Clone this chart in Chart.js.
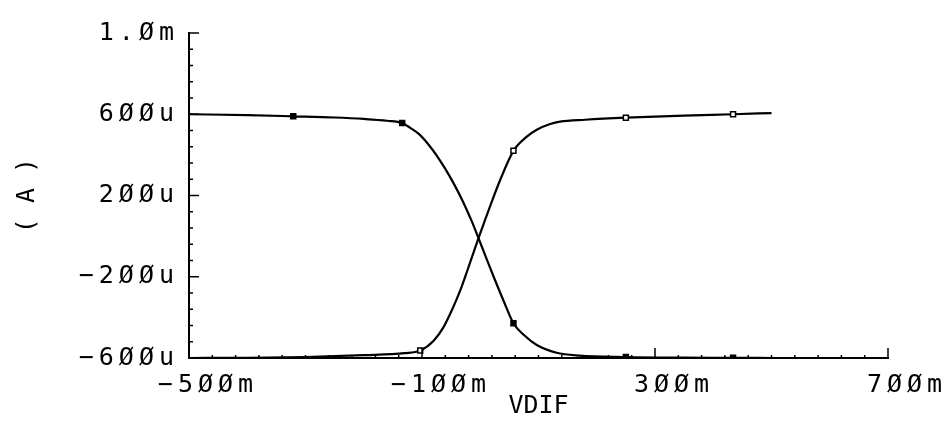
<!DOCTYPE html>
<html>
<head>
<meta charset="utf-8">
<script src="https://cdn.jsdelivr.net/npm/chart.js@4"></script>
<style>
  html, body { margin: 0; background: #fff; }
</style>
</head>
<body>
<canvas id="vdifChart" width="944" height="424"></canvas>
<script>
// DC sweep, VDIF in mV, output currents in uA
const vdif1 = [-500, -400, -321, -250, -200, -160, -134, -120, -105, -90, -75, -60, -45, -30, -15, -3, 9, 23, 40, 57, 75, 97, 131, 170, 250, 350, 434, 500];
const iOut1 = [600, 596, 590, 584, 577, 568, 557, 533, 502, 455, 398, 331, 256, 172, 76, -10, -98, -200, -318, -429, -487, -536, -574, -588, -595, -598, -599, -600];

const vdif2 = [-500, -400, -300, -200, -130, -103, -80, -63, -48, -34, -22, -11, -3, 8, 17, 34, 57, 80, 97, 120, 137, 180, 250, 350, 434, 500];
const iOut2 = [-600, -599, -595, -586, -576, -563, -515, -448, -360, -265, -168, -76, -10, 78, 148, 275, 420, 490, 524, 552, 564, 573, 583, 593, 600, 606];

// where the simulator put its trace symbols
const marks1 = [-321, -134, 57, 250, 434];
const marks2 = [-103, 57, 250, 434];

const xTicks = [-500, -100, 300, 700];
const xTickLabels = ['−5ØØm', '−1ØØm', '3ØØm', '7ØØm'];
const yTicks = [-600, -200, 200, 600, 1000];
const yTickLabels = ['−6ØØu', '−2ØØu', '2ØØu', '6ØØu', '1.Øm'];

const plotFont = { family: '"DejaVu Sans Mono", monospace', size: 25 };
const spacing = '5px';

function toPoints(xs, ys) {
    return xs.map((x, i) => ({ x: x, y: ys[i] }));
}

function labelFor(list, labels) {
    return function (value) {
        const k = list.indexOf(Math.round(value));
        return k < 0 ? '' : labels[k];
    };
}

// wide spaced tick lettering, plain titles, tick marks drawn inside the frame
const plotStyle = {
    id: 'plotStyle',
    beforeLayout(chart) { chart.ctx.letterSpacing = spacing; },
    beforeDraw(chart) { chart.ctx.letterSpacing = spacing; },
    afterLayout(chart) {
        Object.values(chart.scales).forEach(s => {
            if (s._plainTitle) return;
            const orig = s.drawTitle;
            s.drawTitle = function () {
                const c = this.ctx;
                const prev = c.letterSpacing;
                c.letterSpacing = '0px';
                orig.apply(this, arguments);
                c.letterSpacing = prev;
            };
            s._plainTitle = true;
        });
    },
    afterDraw(chart) {
        const ctx = chart.ctx;
        const area = chart.chartArea;
        const xs = chart.scales.x;
        const ys = chart.scales.y;
        ctx.save();
        ctx.strokeStyle = '#000';
        ctx.lineWidth = 1.5;
        ys.ticks.forEach(t => {
            const y = ys.getPixelForValue(t.value);
            ctx.beginPath();
            ctx.moveTo(area.left, y);
            ctx.lineTo(area.left + (t.label ? 10 : 4), y);
            ctx.stroke();
        });
        xs.ticks.forEach(t => {
            const x = xs.getPixelForValue(t.value);
            ctx.beginPath();
            ctx.moveTo(x, area.bottom);
            ctx.lineTo(x, area.bottom - (t.label ? 10 : 3));
            ctx.stroke();
        });
        ctx.restore();
    }
};

const ctx = document.getElementById('vdifChart').getContext('2d');
const vdifChart = new Chart(ctx, {
    type: 'scatter',
    data: {
        datasets: [{
            label: 'I1',
            data: toPoints(vdif1, iOut1),
            showLine: true,
            borderColor: '#000',
            borderWidth: 2.2,
            cubicInterpolationMode: 'monotone',
            pointStyle: 'rect',
            pointRadius: c => marks1.includes(c.raw.x) ? 3.5 : 0,
            pointBackgroundColor: '#000',
            pointBorderColor: '#000',
            pointBorderWidth: 1.5
        }, {
            label: 'I2',
            data: toPoints(vdif2, iOut2),
            showLine: true,
            borderColor: '#000',
            borderWidth: 2.2,
            cubicInterpolationMode: 'monotone',
            pointStyle: 'rect',
            pointRadius: c => marks2.includes(c.raw.x) ? 3.5 : 0,
            pointBackgroundColor: '#fff',
            pointBorderColor: '#000',
            pointBorderWidth: 1.5
        }]
    },
    options: {
        responsive: false,
        animation: false,
        layout: { padding: { left: 0, right: 56, top: 33, bottom: 0 } },
        plugins: {
            legend: { display: false },
            tooltip: { enabled: false }
        },
        scales: {
            x: {
                type: 'linear',
                min: -500,
                max: 700,
                grid: { display: false },
                border: { display: true, color: '#000', width: 2 },
                ticks: {
                    stepSize: 40,
                    autoSkip: false,
                    maxRotation: 0,
                    padding: 4,
                    labelOffset: 19,
                    color: '#000',
                    font: plotFont,
                    callback: labelFor(xTicks, xTickLabels)
                },
                title: {
                    display: true,
                    text: 'VDIF',
                    color: '#000',
                    font: plotFont,
                    padding: { top: 0, bottom: 3 }
                },
                afterFit: s => { s.height = 66; }
            },
            y: {
                type: 'linear',
                min: -600,
                max: 1000,
                grid: { display: false },
                border: { display: true, color: '#000', width: 2 },
                ticks: {
                    stepSize: 80,
                    autoSkip: false,
                    padding: 2,
                    color: '#000',
                    font: plotFont,
                    callback: labelFor(yTicks, yTickLabels)
                },
                title: {
                    display: true,
                    text: '( A )',
                    color: '#000',
                    font: plotFont,
                    padding: { top: 12, bottom: 0 }
                },
                afterFit: s => { s.width = 189; }
            }
        }
    },
    plugins: [plotStyle]
});
</script>
</body>
</html>
